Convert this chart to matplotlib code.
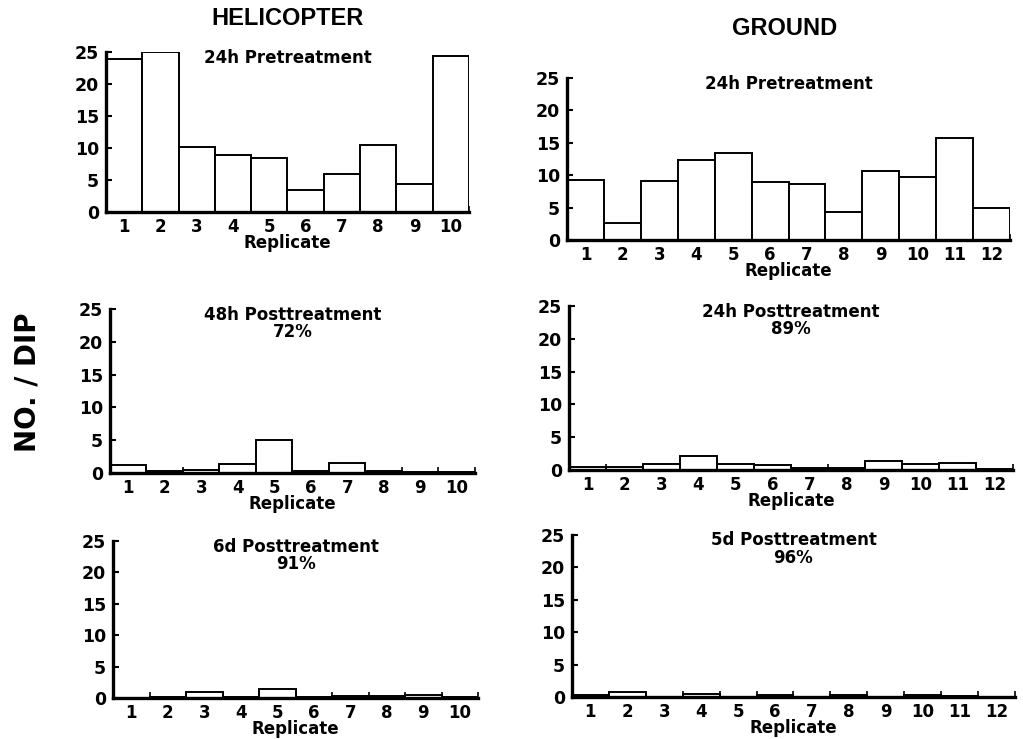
import numpy as np
import matplotlib
matplotlib.use('Agg')
import matplotlib.pyplot as plt
from matplotlib.ticker import FixedLocator

plt.rcParams['font.family'] = ['DejaVu Sans']
plt.rcParams['font.weight'] = 'bold'

# data (number per dip)
heli_labels = ['1', '2', '3', '4', '5', '6', '7', '8', '9', '10']
ground_labels = ['1', '2', '3', '4', '5', '6', '7', '8', '9', '10', '11', '12']

heli_pre = [23.9, 25.0, 10.1, 8.9, 8.4, 3.4, 6.0, 10.5, 4.4, 24.4]
heli_48h = [1.3, 0.3, 0.4, 1.4, 5.1, 0.3, 1.6, 0.3, 0.1, 0.1]
heli_6d = [0.0, 0.1, 0.9, 0.1, 1.5, 0.1, 0.3, 0.3, 0.4, 0.2]

ground_pre = [9.3, 2.6, 9.1, 12.4, 13.4, 8.9, 8.6, 4.3, 10.7, 9.8, 15.7, 4.9]
ground_24h = [0.5, 0.4, 0.9, 2.2, 0.9, 0.7, 0.3, 0.3, 1.3, 0.9, 1.1, 0.1]
ground_5d = [0.4, 0.8, 0.0, 0.5, 0.1, 0.3, 0.1, 0.3, 0.1, 0.3, 0.2, 0.1]

panels = [
    # rect, labels, values, title
    ([0.1036, 0.7131, 0.3548, 0.2165], heli_labels, heli_pre, '24h Pretreatment'),
    ([0.5543, 0.6752, 0.4330, 0.2192], ground_labels, ground_pre, '24h Pretreatment'),
    ([0.1075, 0.3599, 0.3568, 0.2219], heli_labels, heli_48h, '48h Posttreatment\n72%'),
    ([0.5562, 0.3640, 0.4340, 0.2219], ground_labels, ground_24h, '24h Posttreatment\n89%'),
    ([0.1105, 0.0555, 0.3568, 0.2125], heli_labels, heli_6d, '6d Posttreatment\n91%'),
    ([0.5591, 0.0565, 0.4330, 0.2200], ground_labels, ground_5d, '5d Posttreatment\n96%'),
]

fig = plt.figure(figsize=(10.23, 7.39), dpi=100)

for rect, labels, values, title in panels:
    ax = fig.add_axes(rect)
    x = np.arange(1, len(labels) + 1)
    ax.bar(x, values, width=1.0, color='white', edgecolor='black', linewidth=1.4)
    ax.set_xlim(0.5, len(labels) + 0.5)
    ax.set_ylim(0, 25)
    ax.spines['top'].set_visible(False)
    ax.spines['right'].set_visible(False)
    ax.spines['left'].set_linewidth(2.4)
    ax.spines['bottom'].set_linewidth(2.4)
    ax.set_xticks(x)
    ax.set_xticklabels(labels)
    ax.xaxis.set_minor_locator(FixedLocator(np.arange(1.5, len(labels) + 1, 1.0)))
    ax.tick_params(axis='x', which='major', length=0, pad=4, labelsize=12)
    ax.tick_params(axis='x', which='minor', direction='in', length=4, width=1.2)
    ax.set_yticks([0, 5, 10, 15, 20, 25])
    ax.tick_params(axis='y', direction='in', length=4, width=1.5, pad=5, labelsize=12.5)
    ax.set_xlabel('Replicate', fontsize=12, fontweight='bold', labelpad=-1)
    ax.text(0.5, 1.02, title, transform=ax.transAxes, ha='center', va='top',
            fontsize=12, fontweight='bold', linespacing=0.95)

fig.text(0.281, 0.975, 'HELICOPTER', ha='center', va='center', fontsize=17,
         fontweight='bold', family='Liberation Sans')
fig.text(0.767, 0.962, 'GROUND', ha='center', va='center', fontsize=17,
         fontweight='bold', family='Liberation Sans')
fig.text(0.027, 0.483, 'NO. / DIP', ha='center', va='center', rotation=90,
         fontsize=20, fontweight='bold')

fig.savefig('out.png', dpi=100)
